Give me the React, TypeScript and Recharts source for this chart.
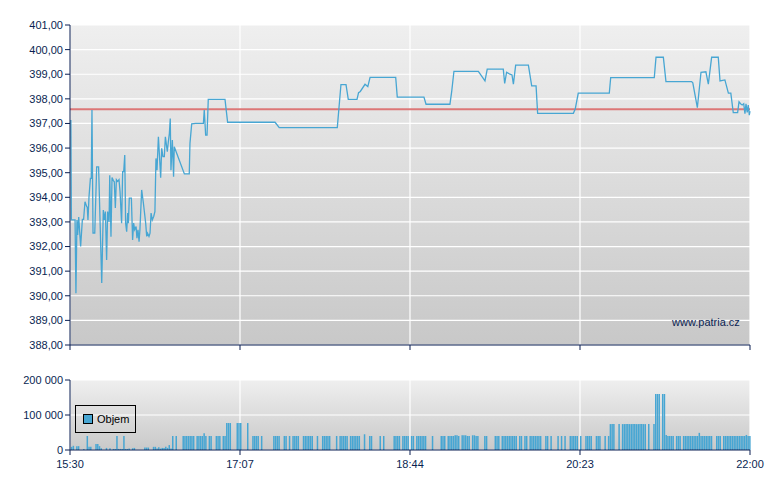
import React from 'react';
import {
  LineChart,
  Line,
  BarChart,
  Bar,
  XAxis,
  YAxis,
  CartesianGrid,
  ReferenceLine,
  Legend,
} from 'recharts';

// minutes after 15:30, price
const PRICE_POINTS: [number, number][] = [
  [0.5, 397.14], [0.8, 393.08], [2.9, 393.08], [3.4, 390.1], [4.0, 393.08], [4.4, 392.47],
  [5.0, 393.2], [6.1, 392.0], [7.1, 393.1], [7.8, 393.1], [8.6, 393.82], [9.6, 393.62],
  [9.9, 393.6], [10.3, 393.08], [10.9, 394.02], [11.7, 394.77], [12.2, 394.77], [12.6, 397.55],
  [13.2, 392.55], [14.2, 392.55], [15.3, 395.24], [16.4, 395.24], [18.2, 390.52], [19.1, 393.48],
  [19.7, 393.08], [20.3, 393.42], [21.0, 391.45], [21.6, 393.42], [22.4, 393.0], [22.8, 394.9],
  [23.5, 392.4], [24.1, 394.8], [24.9, 394.68], [25.4, 394.63], [26.0, 393.57], [26.6, 394.72],
  [27.3, 394.65], [28.1, 394.72], [28.7, 394.23], [29.6, 392.95], [30.2, 395.04], [30.8, 395.04],
  [31.4, 395.72], [31.9, 392.95], [32.5, 392.6], [33.1, 393.36], [33.5, 392.95], [34.0, 393.97],
  [35.2, 393.97], [35.9, 392.27], [36.5, 392.95], [37.1, 392.68], [37.9, 392.81], [38.4, 392.34],
  [39.0, 392.68], [39.6, 392.2], [40.1, 392.68], [41.1, 394.3], [42.1, 393.76], [43.4, 392.95],
  [44.0, 392.41], [44.5, 392.54], [45.3, 392.41], [45.9, 392.54], [46.5, 393.36], [47.2, 393.08],
  [48.0, 393.22], [48.7, 393.42], [49.3, 395.58], [49.9, 395.1], [50.7, 396.46], [51.4, 395.58],
  [52.0, 394.8], [52.6, 395.99], [53.3, 395.65], [54.1, 395.65], [54.7, 396.46], [55.2, 396.19],
  [55.8, 395.85], [56.4, 396.26], [57.0, 396.6], [57.5, 397.2], [57.9, 395.1], [58.7, 396.33],
  [59.4, 394.84], [59.8, 396.05], [65.6, 394.95], [68.4, 394.95], [68.8, 396.19], [69.8, 396.98],
  [72.1, 397.0], [76.5, 397.0], [77.0, 397.55], [77.8, 396.53], [78.6, 396.53], [79.3, 397.98],
  [88.9, 397.98], [90.4, 397.05], [117.6, 397.05], [120.0, 396.83], [153.3, 396.83], [155.4, 398.58],
  [158.3, 398.58], [159.6, 397.98], [164.6, 397.98], [165.5, 398.25], [166.5, 398.3], [169.2, 398.59],
  [170.8, 398.5], [172.1, 398.87], [186.8, 398.87], [187.7, 398.07], [203.0, 398.07], [204.2, 397.78],
  [217.9, 397.78], [218.9, 398.29], [220.2, 399.12], [234.2, 399.12], [238.0, 398.73], [239.3, 399.21],
  [248.5, 399.21], [249.3, 398.63], [250.4, 399.08], [252.3, 399.0], [253.5, 398.97], [254.3, 398.6],
  [255.6, 399.37], [262.9, 399.37], [264.8, 398.53], [267.3, 398.53], [268.2, 397.41], [288.7, 397.41],
  [289.8, 397.6], [291.5, 398.23], [309.3, 398.23], [310.1, 398.86], [335.1, 398.86], [336.1, 399.69],
  [340.3, 399.69], [341.8, 398.7], [356.5, 398.7], [357.2, 398.65], [359.8, 397.64], [361.9, 399.08],
  [364.7, 399.1], [366.1, 398.6], [368.0, 399.69], [371.8, 399.69], [372.8, 398.73], [375.6, 398.77],
  [377.6, 398.23], [379.0, 398.23], [380.4, 397.44], [382.9, 397.44], [383.7, 397.88], [384.6, 397.8],
  [385.5, 397.75], [386.4, 397.8], [387.1, 397.4], [387.7, 397.8], [388.4, 397.45], [389.0, 397.75],
  [389.6, 397.34], [390.0, 397.5],
];

// minute after 15:30, traded volume
const VOLUME_BARS: [number, number][] = [
  [1, 9000], [2, 12000], [4, 11000], [5, 11000], [8, 3000], [10, 40000], [11, 9000], [12, 9000],
  [15, 17000], [16, 17000], [17, 11000], [18, 5000], [21, 6000], [23, 5000],
  [25, 3000], [26, 3000], [27, 40000], [28, 3000], [29, 3000], [30, 3000], [31, 40000], [32, 3000],
  [33, 3000], [34, 4000], [36, 5000], [37, 6000], [43, 7000], [44, 7000], [45, 7000],
  [48, 9000], [49, 9000], [50, 4000], [51, 8000], [52, 4000], [53, 6000], [54, 6000], [55, 9000],
  [56, 6000], [57, 14000], [58, 4000],
  [59, 40000], [61, 40000], [65, 40000], [66, 40000], [67, 40000], [68, 40000], [69, 40000],
  [70, 40000], [71, 40000], [73, 40000], [74, 40000], [75, 40000], [76, 40000], [77, 48000],
  [78, 40000], [80, 40000], [81, 40000], [84, 40000], [85, 40000], [86, 40000], [88, 40000],
  [89, 40000], [90, 77000], [91, 77000], [92, 77000], [96, 77000], [97, 77000], [98, 77000],
  [102, 77000], [105, 40000], [106, 40000], [107, 40000], [108, 40000], [110, 40000],
  [117, 40000], [118, 40000], [119, 40000], [120, 40000], [123, 40000], [124, 40000], [126, 40000],
  [128, 40000], [129, 40000], [130, 40000], [131, 40000], [134, 40000], [135, 40000], [136, 40000],
  [137, 40000], [138, 40000], [139, 40000], [142, 40000], [145, 40000], [146, 40000], [147, 40000],
  [148, 40000], [149, 40000], [153, 40000], [155, 40000], [156, 40000], [157, 40000], [158, 40000],
  [159, 40000], [161, 40000], [162, 40000], [163, 40000], [164, 40000], [165, 40000], [166, 40000],
  [169, 45000], [172, 40000], [173, 40000], [178, 40000], [180, 40000], [186, 40000], [187, 40000],
  [188, 40000], [189, 40000], [191, 40000], [192, 40000], [193, 40000], [194, 40000], [196, 40000],
  [197, 40000], [199, 40000], [200, 40000], [201, 40000], [202, 40000], [203, 40000], [204, 40000],
  [208, 40000], [213, 40000], [214, 40000], [215, 40000], [217, 40000], [218, 40000], [219, 40000],
  [220, 40000], [221, 42000], [222, 42000], [223, 40000], [225, 42000], [226, 42000], [227, 42000],
  [228, 40000], [229, 40000], [231, 42000], [232, 42000], [233, 40000], [234, 40000], [238, 40000],
  [239, 40000], [244, 40000], [245, 40000], [246, 40000], [248, 40000], [249, 40000], [250, 40000],
  [251, 40000], [252, 40000], [253, 40000], [254, 40000], [255, 40000], [256, 40000], [258, 40000],
  [259, 40000], [261, 40000], [262, 40000], [264, 40000], [265, 40000], [266, 40000], [267, 40000],
  [268, 40000], [269, 40000], [270, 40000], [273, 40000], [274, 40000], [276, 40000], [280, 40000],
  [282, 40000], [284, 40000], [287, 40000], [288, 40000], [289, 40000], [290, 40000], [291, 40000],
  [293, 40000], [296, 40000], [297, 40000], [298, 40000], [299, 40000], [302, 40000], [303, 40000],
  [304, 40000], [307, 40000], [309, 40000], [310, 74000], [311, 74000], [312, 74000], [315, 74000],
  [317, 74000], [318, 74000], [319, 74000], [320, 74000], [321, 74000], [322, 74000], [323, 74000],
  [324, 74000], [325, 74000], [326, 74000], [327, 74000], [328, 74000], [329, 74000], [330, 74000],
  [332, 74000], [335, 74000], [336, 160000], [337, 160000], [338, 160000], [340, 160000],
  [341, 160000], [342, 43000], [343, 40000], [344, 40000], [345, 40000], [346, 40000], [348, 40000],
  [349, 40000], [350, 40000], [352, 40000], [353, 40000], [354, 40000], [355, 40000], [356, 40000],
  [357, 40000], [358, 40000], [359, 40000], [360, 40000], [361, 49000], [362, 40000], [363, 40000],
  [364, 40000], [365, 40000], [366, 40000], [367, 40000], [368, 40000], [371, 40000], [372, 40000],
  [373, 40000], [375, 40000], [376, 40000], [377, 40000], [378, 40000], [379, 40000], [380, 40000],
  [381, 40000], [382, 40000], [383, 40000], [384, 40000], [385, 40000], [386, 40000], [387, 40000],
  [388, 43000], [389, 40000], [390, 40000],
];

const TICK_MINUTES = [0, 97.5, 195, 292.5, 390];
const TICK_LABELS = ['15:30', '17:07', '18:44', '20:23', '22:00'];
const PRICE_TICKS = [388, 389, 390, 391, 392, 393, 394, 395, 396, 397, 398, 399, 400, 401];
const VOLUME_TICKS = [0, 100000, 200000];
const PREV_CLOSE = 397.58;

const NAVY = '#0a1f52';
const BLUE = '#47a6d3';

const priceData = PRICE_POINTS.map(([t, p]) => ({ t, p }));
const volumeData = VOLUME_BARS.map(([t, v]) => ({ t, v }));

const fmtPrice = (v: number) => v.toFixed(2).replace('.', ',');
const fmtVolume = (v: number) => String(v).replace(/\B(?=(\d{3})+(?!\d))/g, ' ');
const fmtTime = (v: number) => TICK_LABELS[TICK_MINUTES.indexOf(v)] ?? '';

function ObjemLegend(props: any) {
  const item = props.payload?.[0];
  return (
    <div style={{ width: 59, height: 26, border: '1px solid #000', display: 'flex', alignItems: 'center', fontSize: 11, color: '#000' }}>
      <span style={{ width: 8, height: 8, marginLeft: 7, marginRight: 4, background: item?.color ?? BLUE, border: '1px solid #000' }} />
      <span>{item?.value ?? 'Objem'}</span>
    </div>
  );
}

export default function App() {
  return (
    <div style={{ position: 'absolute', left: 0, top: 0, width: 780, height: 490, background: '#fff', fontFamily: '"Liberation Sans", Arial, sans-serif' }}>
      <div style={{ position: 'absolute', left: 0, top: 0 }}>
        <LineChart width={780} height={360} data={priceData} margin={{ top: 25, right: 30, bottom: 5, left: 0 }}>
          <defs>
            <linearGradient id="priceBg" x1="0" y1="0" x2="0" y2="1">
              <stop offset="0" stopColor="#efefef" />
              <stop offset="1" stopColor="#c8c8c8" />
            </linearGradient>
          </defs>
          <CartesianGrid fill="url(#priceBg)" stroke="#ffffff" strokeWidth={1.2} />
          <XAxis
            dataKey="t"
            type="number"
            domain={[0, 390]}
            ticks={TICK_MINUTES}
            interval={0}
            tickFormatter={() => ''}
            tickSize={5}
            height={10}
            axisLine={{ stroke: NAVY }}
            tickLine={{ stroke: NAVY }}
          />
          <YAxis
            type="number"
            domain={[388, 401]}
            ticks={PRICE_TICKS}
            interval={0}
            width={70}
            tickSize={5}
            tickMargin={2}
            tickFormatter={fmtPrice}
            tick={{ fill: NAVY, fontSize: 11 }}
            axisLine={{ stroke: NAVY }}
            tickLine={{ stroke: NAVY }}
          />
          <ReferenceLine y={PREV_CLOSE} stroke="#dc7777" strokeWidth={2} />
          <Line dataKey="p" type="linear" stroke={BLUE} strokeWidth={1.3} dot={false} isAnimationActive={false} />
        </LineChart>
        <div style={{ position: 'absolute', left: 672, top: 316, fontSize: 11, color: NAVY }}>www.patria.cz</div>
      </div>
      <div style={{ position: 'absolute', left: 0, top: 360 }}>
        <BarChart width={780} height={130} data={volumeData} margin={{ top: 20, right: 30, bottom: 10, left: 0 }} barCategoryGap={0} barGap={0}>
          <defs>
            <linearGradient id="volBg" x1="0" y1="0" x2="0" y2="1">
              <stop offset="0" stopColor="#efefef" />
              <stop offset="1" stopColor="#c9c9c9" />
            </linearGradient>
          </defs>
          <CartesianGrid fill="url(#volBg)" stroke="#ffffff" strokeWidth={1.2} />
          <XAxis
            dataKey="t"
            type="number"
            domain={[0, 390]}
            ticks={TICK_MINUTES}
            interval={0}
            tickFormatter={fmtTime}
            tickSize={5}
            tickMargin={5}
            height={30}
            tick={{ fill: NAVY, fontSize: 11 }}
            axisLine={{ stroke: NAVY }}
            tickLine={{ stroke: NAVY }}
          />
          <YAxis
            type="number"
            domain={[0, 200000]}
            ticks={VOLUME_TICKS}
            interval={0}
            width={70}
            tickSize={5}
            tickMargin={2}
            tickFormatter={fmtVolume}
            tick={{ fill: NAVY, fontSize: 11 }}
            axisLine={{ stroke: NAVY }}
            tickLine={{ stroke: NAVY }}
          />
          <Legend
            layout="horizontal"
            verticalAlign="middle"
            align="center"
            content={<ObjemLegend />}
            wrapperStyle={{ left: 75, top: 45, width: 61, height: 28 }}
          />
          <Bar dataKey="v" name="Objem" fill={BLUE} barSize={1.5} isAnimationActive={false} />
        </BarChart>
      </div>
    </div>
  );
}
